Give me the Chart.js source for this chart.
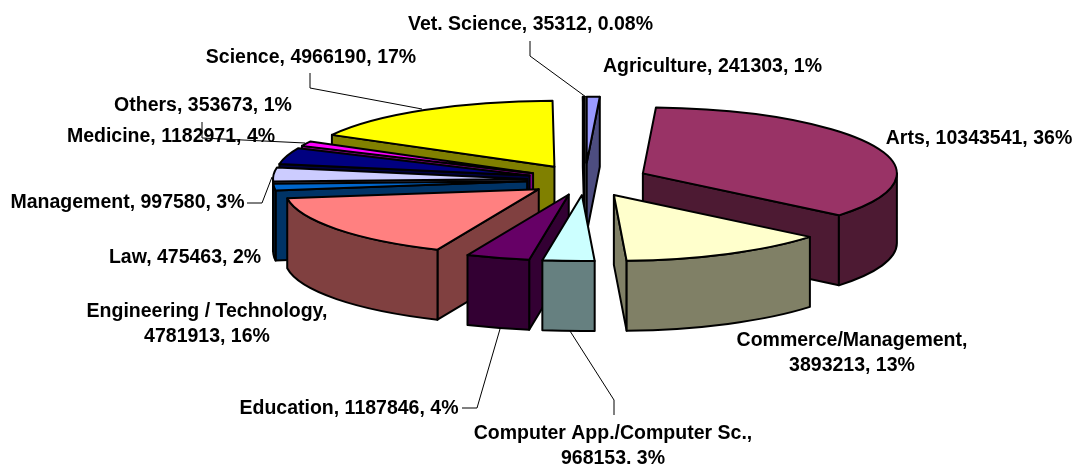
<!DOCTYPE html>
<html>
<head>
<meta charset="utf-8">
<style>html,body{margin:0;padding:0;background:#fff;overflow:hidden}canvas{display:block}</style>
<script src="https://cdn.jsdelivr.net/npm/chart.js@4/dist/chart.umd.min.js"></script>
</head>
<body>
<canvas id="c" width="1073" height="464" style="width:1073px;height:464px"></canvas>
<script>
const categories = ["Agriculture","Arts","Commerce/Management","Computer App./Computer Sc.","Education","Engineering / Technology","Law","Management","Medicine","Others","Science","Vet. Science"];
const enrolment = [241303,10343541,3893213,968153,1187846,4781913,475463,997580,1182971,353673,4966190,35312];
const shareLabels = ["1%","36%","13%","3%","4%","16%","2%","3%","4%","1%","17%","0.08%"];
const faceColors = ["#9999FF","#993366","#FFFFCC","#CCFFFF","#660066","#FF8080","#0066CC","#CCCCFF","#000080","#FF00FF","#FFFF00","#00FFFF"];
const explode = [129,123,125,113,113,113,113,113,113,113,116,129];

// Projection of the flat pie into the tilted view
const VIEW = {rx:254, ry:66, depth:70};
// Label placement: centre x, centre y of first line
const LABEL_SPOTS = {
  0:{x:712.5,y:67},1:{x:979,y:139},2:{x:852,y:341,wrap:true},3:{x:613,y:434,wrap:true},
  4:{x:349,y:409},5:{x:207,y:312,wrap:true},6:{x:185,y:258},7:{x:127.5,y:203},
  8:{x:171,y:137},9:{x:203,y:106},10:{x:311,y:58},11:{x:530.5,y:25}
};
const LEADERS = [
  [[530,41],[530,56],[586,97]],
  [[310,73],[310,88],[422,109]],
  [[202,122],[202,138],[305,143]],
  [[247,203],[262,203],[272,177]],
  [[462,408],[477,408],[500,329]],
  [[570,331],[614,400],[614,415]]
];

function shade(hex){
  const n=parseInt(hex.slice(1),16);
  const c=s=>Math.round(((n>>s)&255)*0.5);
  return `rgb(${c(16)},${c(8)},${c(0)})`;
}

const pie3d = {
  id:'pie3d',
  beforeDatasetDraw(chart,args){
    const ctx=chart.ctx, arcs=args.meta.data;
    const items=arcs.map((a,i)=>{
      const p=a.getProps(['x','y','startAngle','endAngle','outerRadius'],true);
      const k=VIEW.rx/p.outerRadius, q=VIEW.ry/p.outerRadius;
      const mid=(p.startAngle+p.endAngle)/2, off=a.options.offset/4;
      return {i,s:p.startAngle,e:p.endAngle,mid,color:a.options.backgroundColor,
        ax:p.x+Math.cos(mid)*off*k, ay:p.y+Math.sin(mid)*off*q};
    }).sort((m,n)=>Math.sin(m.mid)-Math.sin(n.mid));
    const {rx,ry,depth}=VIEW;
    ctx.save();
    ctx.lineWidth=2; ctx.lineJoin='round'; ctx.strokeStyle='#000';
    items.forEach(it=>{
      const dark=shade(it.color);
      const pt=t=>[it.ax+Math.cos(t)*rx, it.ay+Math.sin(t)*ry];
      const radial=t=>{
        const [x,y]=pt(t);
        ctx.beginPath();ctx.moveTo(it.ax,it.ay);ctx.lineTo(x,y);ctx.lineTo(x,y+depth);ctx.lineTo(it.ax,it.ay+depth);ctx.closePath();
        ctx.fillStyle=dark;ctx.fill();ctx.stroke();
      };
      // radial walls that face the viewer (angle measured from 12 o'clock)
      const thetaS=it.s+Math.PI/2, thetaE=it.e+Math.PI/2;
      if(Math.sin(thetaS)<0) radial(it.s);
      if(Math.sin(thetaE)>0) radial(it.e);
      // outer rim: only the part in the front half of the ellipse
      const twoPi=Math.PI*2;
      for(const base of [0,twoPi]){
        const a0=Math.max(it.s,base), a1=Math.min(it.e,base+Math.PI);
        if(a1>a0){
          ctx.beginPath();
          ctx.ellipse(it.ax,it.ay,rx,ry,0,a0,a1);
          ctx.ellipse(it.ax,it.ay+depth,rx,ry,0,a1,a0,true);
          ctx.closePath();
          ctx.fillStyle=dark;ctx.fill();ctx.stroke();
        }
      }
      // top face
      ctx.beginPath();
      ctx.moveTo(it.ax,it.ay);
      ctx.ellipse(it.ax,it.ay,rx,ry,0,it.s,it.e);
      ctx.closePath();
      ctx.fillStyle=it.color;ctx.fill();ctx.stroke();
    });
    ctx.restore();
    return false;
  },
  afterDraw(chart){
    const ctx=chart.ctx;
    ctx.save();
    ctx.strokeStyle='#000';ctx.lineWidth=1;
    LEADERS.forEach(l=>{
      ctx.beginPath();
      l.forEach((p,i)=>i?ctx.lineTo(p[0],p[1]):ctx.moveTo(p[0],p[1]));
      ctx.stroke();
    });
    ctx.fillStyle='#000';
    ctx.font='bold 19.5px "Liberation Sans", Arial, sans-serif';
    ctx.textAlign='center';ctx.textBaseline='middle';
    categories.forEach((c,i)=>{
      const s=LABEL_SPOTS[i];
      if(s.wrap){
        ctx.fillText(c+',',s.x,s.y);
        ctx.fillText(enrolment[i]+', '+shareLabels[i],s.x,s.y+25);
      } else {
        ctx.fillText(c+', '+enrolment[i]+', '+shareLabels[i],s.x,s.y);
      }
    });
    ctx.restore();
  }
};

new Chart(document.getElementById('c'),{
  type:'pie',
  data:{labels:categories,datasets:[{data:enrolment,backgroundColor:faceColors,borderWidth:0,offset:explode,radius:123.5}]},
  options:{
    responsive:false,animation:false,
    layout:{padding:{left:97,top:0,right:0,bottom:104}},
    plugins:{legend:{display:false},tooltip:{enabled:false}}
  },
  plugins:[pie3d]
});
</script>
</body>
</html>
